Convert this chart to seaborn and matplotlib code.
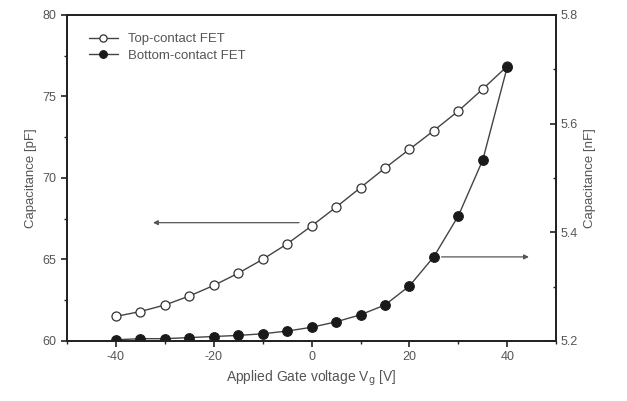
import numpy as np
import pandas as pd
import matplotlib
matplotlib.use("Agg")
import matplotlib.pyplot as plt
import seaborn as sns
from matplotlib.ticker import MultipleLocator

# gate voltage steps
vg = [-40, -35, -30, -25, -20, -15, -10, -5, 0, 5, 10, 15, 20, 25, 30, 35, 40]
# top-contact FET, left axis [pF]
top_pf = [61.5, 61.8, 62.2, 62.75, 63.4, 64.15, 65.0, 65.95, 67.05, 68.2,
          69.4, 70.6, 71.75, 72.9, 74.1, 75.45, 76.85]
# bottom-contact FET, right axis [nF]
bottom_nf = [5.202, 5.204, 5.204, 5.206, 5.208, 5.210, 5.213, 5.218, 5.225,
             5.235, 5.248, 5.266, 5.301, 5.355, 5.430, 5.533, 5.704]

df = pd.DataFrame({"vg": vg, "top": top_pf, "bottom": bottom_nf})

sns.set_theme(style="white")
plt.rcParams["font.family"] = ["Liberation Sans", "DejaVu Sans"]
plt.rcParams["axes.unicode_minus"] = False
grey = "#555555"
line_c = "#444444"

fig = plt.figure(figsize=(6.27, 4.01), dpi=100)
ax = fig.add_axes([0.107, 0.150, 0.780, 0.813])
ax2 = ax.twinx()

sns.lineplot(data=df, x="vg", y="top", ax=ax, color=line_c, lw=1.0,
             marker="o", markersize=6.5, markerfacecolor="white",
             markeredgecolor="#333333", markeredgewidth=0.9,
             label="Top-contact FET", legend=False)
sns.lineplot(data=df, x="vg", y="bottom", ax=ax2, color=line_c, lw=1.0,
             marker="o", markersize=7, markerfacecolor="#1a1a1a",
             markeredgecolor="#1a1a1a", label="Bottom-contact FET", legend=False)

ax.set_xlim(-50, 50)
ax.set_ylim(60, 80)
ax2.set_ylim(5.2, 5.8)

ax.xaxis.set_major_locator(MultipleLocator(20))
ax.xaxis.set_minor_locator(MultipleLocator(10))
ax.yaxis.set_major_locator(MultipleLocator(5))
ax.yaxis.set_minor_locator(MultipleLocator(2.5))
ax2.yaxis.set_major_locator(MultipleLocator(0.2))
ax2.yaxis.set_minor_locator(MultipleLocator(0.1))

for a in (ax, ax2):
    for s in a.spines.values():
        s.set_color("#222222")
        s.set_linewidth(1.3)
    a.tick_params(which="major", length=4, width=1.2, color="#222222",
                  labelsize=9, labelcolor=grey)
    a.tick_params(which="minor", length=2.5, width=1.0, color="#222222")
ax.tick_params(axis="x", which="both", bottom=True, top=False)
ax.tick_params(axis="y", which="both", left=True, right=False)
ax2.tick_params(axis="y", which="both", right=True, direction="in")

ax.set_xlabel("Applied Gate voltage V$_{\\mathrm{g}}$ [V]", fontsize=10, color=grey)
ax.set_ylabel("Capacitance [pF]", fontsize=9.5, color=grey)
ax2.set_ylabel("Capacitance [nF]", fontsize=9.5, color=grey)

# arrows pointing to the axis each curve belongs to
ax.annotate("", xy=(-33, 67.25), xytext=(-2, 67.25),
            arrowprops=dict(arrowstyle="-|>", color="#555555", lw=0.9,
                            mutation_scale=7))
ax.annotate("", xy=(45, 65.15), xytext=(26, 65.15),
            arrowprops=dict(arrowstyle="-|>", color="#555555", lw=0.9,
                            mutation_scale=7))

h1, l1 = ax.get_legend_handles_labels()
h2, l2 = ax2.get_legend_handles_labels()
leg = ax.legend(h1 + h2, l1 + l2, loc="upper left", frameon=False,
                fontsize=9.5, bbox_to_anchor=(0.02, 0.98), handlelength=2.2,
                labelspacing=0.3, markerscale=0.8)
for t in leg.get_texts():
    t.set_color(grey)

fig.savefig("out.png", dpi=100)
